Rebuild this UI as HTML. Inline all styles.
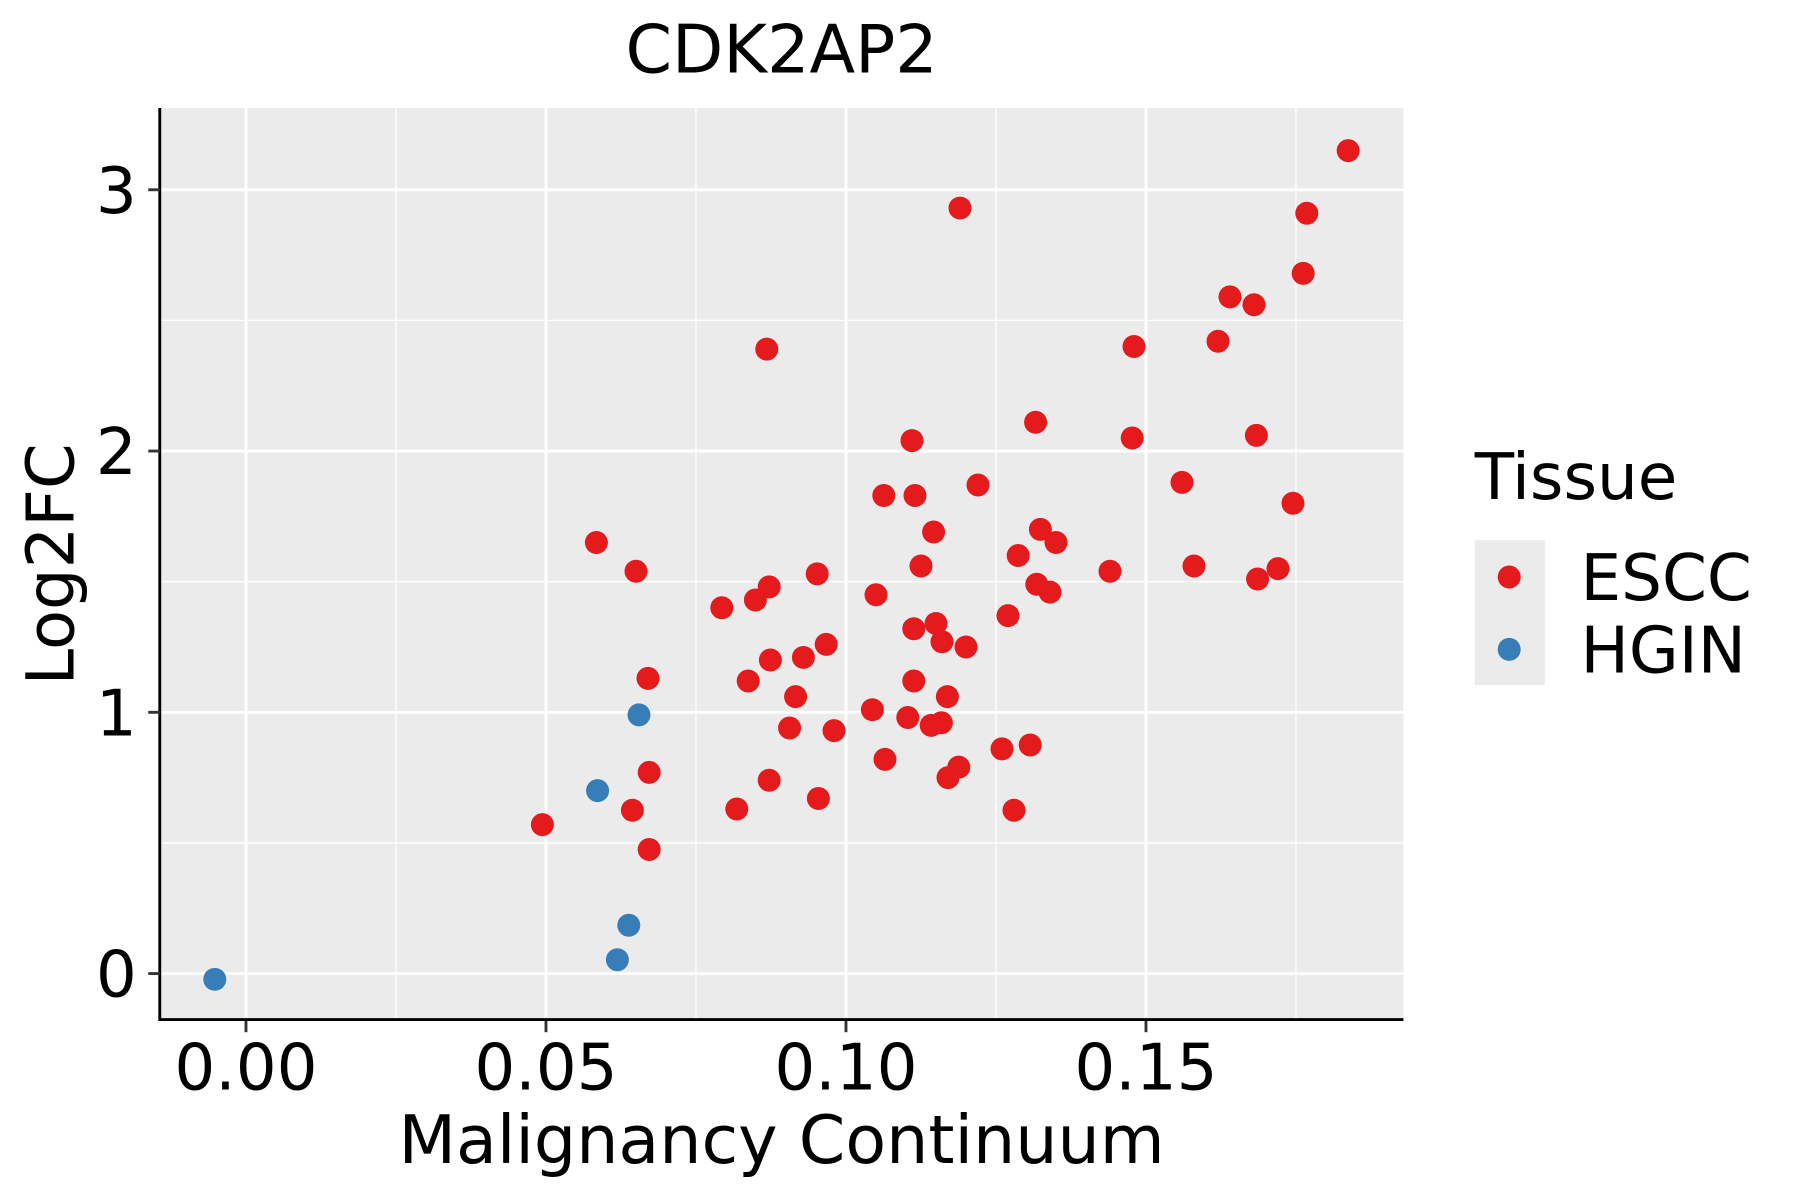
<!DOCTYPE html>
<html><head><meta charset="utf-8"><style>
html,body{margin:0;padding:0;background:#fff;}
svg{display:block;font-family:"DejaVu Sans","Liberation Sans",sans-serif;}
</style></head><body>
<svg id="chart" width="1800" height="1200" viewBox="0 0 1566 1044" preserveAspectRatio="none" xmlns="http://www.w3.org/2000/svg">
<rect x="0" y="0" width="1566" height="1044" fill="#fff"/>
<text x="680" y="63" font-size="58" text-anchor="middle">CDK2AP2</text>
<rect x="139" y="94" width="1082" height="793" fill="#ebebeb"/>
<g id="grid"></g>
<g id="points"></g>
<line x1="139" y1="94" x2="139" y2="888" stroke="#000" stroke-width="2.5"/>
<line x1="138" y1="887" x2="1221" y2="887" stroke="#000" stroke-width="2.5"/>
<g id="axes"></g>
<text x="680" y="1012" font-size="58" text-anchor="middle">Malignancy Continuum</text>
<text x="0" y="0" font-size="57" text-anchor="middle" transform="translate(64,491) rotate(-90)">Log2FC</text>
<g>
<text x="1283" y="434" font-size="56">Tissue</text>
<rect x="1283" y="470" width="61" height="126" fill="#ebebeb"/>
<circle cx="1313" cy="502" r="10" fill="#e41a1c"/>
<circle cx="1313" cy="565" r="10" fill="#377eb8"/>
<text x="1375" y="522" font-size="56">ESCC</text>
<text x="1375" y="585" font-size="56">HGIN</text>
</g>
</svg>
<script>
const xTicks=[0,0.05,0.10,0.15];
const xTickLabels=["0.00","0.05","0.10","0.15"];
const yTicks=[0,1,2,3];
const yTickLabels=["0","1","2","3"];
const esccX=[0.1837,0.119,0.1768,0.1762,0.164,0.168,0.162,0.148,0.0868,0.1316,0.1477,0.1684,0.111,0.122,0.156,0.1063,0.1115,0.1745,0.1146,0.1324,0.135,0.0584,0.1287,0.158,0.1125,0.065,0.144,0.172,0.0952,0.1318,0.1686,0.0872,0.134,0.105,0.0849,0.0793,0.127,0.115,0.1113,0.116,0.120,0.0967,0.0929,0.0874,0.067,0.0837,0.1113,0.1169,0.0916,0.1044,0.1103,0.1159,0.1142,0.0906,0.098,0.1307,0.126,0.1065,0.1188,0.0672,0.117,0.0872,0.0954,0.0644,0.0818,0.128,0.0494,0.0672];
const esccY=[3.15,2.93,2.91,2.68,2.59,2.56,2.42,2.40,2.39,2.11,2.05,2.06,2.04,1.87,1.88,1.83,1.83,1.80,1.69,1.70,1.65,1.65,1.60,1.56,1.56,1.54,1.54,1.55,1.53,1.49,1.51,1.48,1.46,1.45,1.43,1.40,1.37,1.34,1.32,1.27,1.25,1.26,1.21,1.20,1.13,1.12,1.12,1.06,1.06,1.01,0.98,0.96,0.95,0.94,0.93,0.875,0.86,0.82,0.79,0.77,0.75,0.74,0.67,0.625,0.63,0.625,0.57,0.475];
const hginX=[0.0655,0.0586,0.0638,0.0619,-0.0052];
const hginY=[0.99,0.70,0.185,0.053,-0.022];

const NS="http://www.w3.org/2000/svg";
function sx(v){return 214+v*5220;}
function sy(v){return 847-v*227.3;}
function mk(tag,attrs,parent){const e=document.createElementNS(NS,tag);for(const k in attrs)e.setAttribute(k,attrs[k]);parent.appendChild(e);return e;}
const grid=document.getElementById('grid');
for(let i=-1;i<xTicks.length;i++){
  const v=(i<0?xTicks[0]-0.025:xTicks[i]+0.025);
  const px=sx(v); if(px<139||px>1221) continue;
  const l=mk('line',{x1:px,x2:px,y1:94,y2:887,stroke:'#fff','stroke-width':1.2},grid);
  
  
}
for(let i=0;i<yTicks.length;i++){
  const py=sy(yTicks[i]+0.5); if(py<94) continue;
  const l=mk('line',{x1:139,x2:1221,y1:py,y2:py,stroke:'#fff','stroke-width':1.2},grid);
  
  
}
const axes=document.getElementById('axes');
xTicks.forEach((v,i)=>{
  const px=sx(v);
  const g=mk('line',{x1:px,x2:px,y1:94,y2:887,stroke:'#fff','stroke-width':2.5},grid);
  
  
  const t=mk('line',{x1:px,x2:px,y1:888,y2:898,stroke:'#333','stroke-width':2.5},axes);
  
  
  const tx=mk('text',{x:px,y:948,'font-size':56,'text-anchor':'middle'},axes);
  tx.textContent=xTickLabels[i];
  
  
});
yTicks.forEach((v,i)=>{
  const py=sy(v);
  const g=mk('line',{x1:139,x2:1221,y1:py,y2:py,stroke:'#fff','stroke-width':2.5},grid);
  
  
  const t=mk('line',{x1:129,x2:139,y1:py,y2:py,stroke:'#333','stroke-width':2.5},axes);
  
  
  const tx=mk('text',{x:119,y:py+20,'font-size':56,'text-anchor':'end'},axes);
  tx.textContent=yTickLabels[i];
  
  
});
const pts=document.getElementById('points');
esccX.forEach((v,i)=>{
  const c=mk('circle',{cx:sx(v),cy:sy(esccY[i]),r:10,fill:'#e41a1c'},pts);
  
  
});
hginX.forEach((v,i)=>{
  const c=mk('circle',{cx:sx(v),cy:sy(hginY[i]),r:10,fill:'#377eb8'},pts);
  
  
});
</script>
</body></html>
